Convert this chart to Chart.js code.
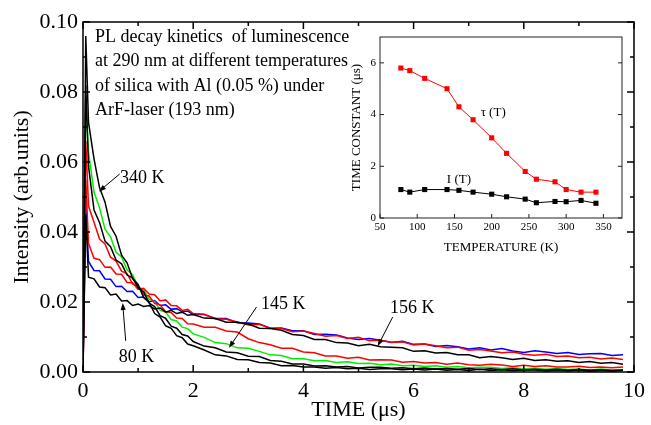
<!DOCTYPE html>
<html>
<head>
<meta charset="utf-8">
<script src="https://cdn.jsdelivr.net/npm/chart.js@4.4.1/dist/chart.umd.min.js"></script>
<style>
  html, body { margin: 0; padding: 0; background: #fff; }
  #wrap { position: relative; width: 651px; height: 425px; }
  #main { position: absolute; left: 0; top: 0; }
  #inset { position: absolute; left: 340px; top: 25px; }
</style>
</head>
<body>
<div id="wrap">
  <canvas id="main" width="651" height="425"></canvas>
  <canvas id="inset" width="311" height="240"></canvas>
</div>
<script>
const SERIF = "'Liberation Serif', 'Times New Roman', serif";

// --- Main plot: PL decay curves, intensity in units of 1e-3 (arb.units) ---
const timeUs = [0, 0.05, 0.1, 0.2, 0.3, 0.4, 0.5, 0.6, 0.7, 0.8, 0.9, 1.0, 1.1, 1.2, 1.3, 1.4, 1.5, 1.6, 1.7, 1.8, 1.9, 2.0,
  2.2, 2.4, 2.6, 2.8, 3.0, 3.2, 3.4, 3.6, 3.8, 4.0, 4.2, 4.4, 4.6, 4.8, 5.0, 5.2, 5.4, 5.6, 5.8, 6.0,
  6.2, 6.4, 6.6, 6.8, 7.0, 7.2, 7.4, 7.6, 7.8, 8.0, 8.2, 8.4, 8.6, 8.8, 9.0, 9.2, 9.4, 9.6, 9.8];

const blueLowT = [0, 48, 31.6, 29.0, 28.9, 26.6, 26.5, 24.4, 24.5, 23.0, 23.1, 21.3, 21.4, 20.1, 20.4, 19.0, 19.2, 17.9, 18.1, 17.2, 17.4, 16.4,
  16.4, 15.3, 15.3, 14.1, 14.0, 13.7, 12.5, 12.6, 11.8, 11.8, 10.7, 10.8, 10.6, 9.7, 9.3, 9.6, 9.1, 8.4, 8.8, 7.9,
  8.0, 7.3, 7.6, 7.2, 6.6, 6.9, 6.3, 6.7, 6.0, 5.6, 6.1, 5.7, 5.3, 5.6, 5.0, 5.2, 5.3, 4.7, 4.9];

const black80K = [0, 45, 27.1, 26.6, 24.3, 24.1, 22.0, 22.3, 20.3, 20.4, 19.0, 19.4, 18.7, 19.0, 18.0, 18.3, 17.1, 17.6, 16.7, 17.1, 16.2, 16.4,
  15.4, 15.3, 14.2, 14.2, 13.7, 12.5, 12.4, 11.9, 10.7, 10.4, 9.3, 9.3, 8.4, 8.3, 7.5, 7.9, 7.2, 7.1, 6.9, 5.9,
  6.1, 5.4, 5.6, 4.9, 4.9, 4.1, 4.4, 4.1, 3.6, 3.9, 3.3, 3.5, 3.1, 3.2, 2.7, 3.0, 2.5, 2.7, 2.2];

const redUpper = [0, 55, 36.7, 32.5, 32.1, 29.9, 30.0, 28.0, 27.9, 25.6, 25.5, 23.6, 23.9, 22.3, 22.1, 20.3, 20.6, 19.0, 18.9, 17.6, 17.9, 16.7,
  16.5, 15.2, 15.1, 14.3, 13.4, 13.6, 12.5, 12.4, 11.5, 11.7, 11.0, 10.2, 10.4, 9.6, 9.9, 8.9, 9.1, 8.5, 8.6, 7.7,
  8.0, 7.5, 6.9, 7.1, 6.2, 6.4, 6.0, 5.5, 5.7, 5.1, 4.8, 5.1, 4.4, 4.6, 4.1, 4.2, 3.7, 4.0, 3.6];

const redLower = [0, 66, 47.4, 42.8, 38.0, 36.6, 32.8, 31.7, 28.8, 28.1, 25.2, 24.5, 22.0, 21.7, 19.6, 19.2, 17.2, 17.0, 15.4, 15.3, 13.8, 13.7,
  12.8, 12.8, 11.7, 11.4, 9.5, 8.4, 7.8, 6.8, 6.8, 5.7, 5.5, 4.6, 4.6, 3.9, 4.2, 3.4, 3.5, 3.4, 2.8, 3.0,
  2.6, 2.7, 2.2, 2.6, 2.1, 1.9, 2.2, 2.0, 1.6, 1.95, 1.6, 1.8, 1.45, 1.4, 1.65, 1.3, 1.45, 1.2, 1.4];

const greenCurve = [0, 78, 62.8, 51.4, 46.9, 40.8, 38.6, 34.2, 32.9, 29.1, 27.8, 24.4, 23.5, 20.8, 20.1, 17.6, 17.1, 15.0, 14.6, 12.8, 12.4, 10.9,
  9.9, 8.4, 8.1, 6.9, 6.8, 5.9, 4.9, 4.7, 3.8, 3.8, 3.2, 3.3, 2.7, 2.9, 2.4, 2.5, 2.05, 2.25, 1.8, 1.95,
  1.6, 1.75, 1.35, 1.6, 1.2, 1.35, 1.35, 1.0, 1.2, 0.9, 1.05, 0.8, 1.0, 0.7, 0.85, 0.6, 0.85, 0.55, 0.7];

const black340K = [0, 96, 71.3, 60.9, 52.7, 48.5, 41.6, 38.8, 33.4, 31.2, 26.7, 25.0, 21.3, 19.9, 16.7, 15.7, 13.2, 12.5, 10.4, 9.8, 8.0, 7.5,
  6.3, 4.9, 4.6, 3.6, 3.5, 2.7, 2.6, 1.8, 1.85, 1.4, 1.45, 1.05, 1.3, 0.9, 1.1, 0.75, 0.95, 0.95, 0.65, 0.85,
  0.55, 0.85, 0.5, 0.7, 0.45, 0.75, 0.4, 0.65, 0.35, 0.55, 0.55, 0.3, 0.5, 0.3, 0.5, 0.2, 0.4, 0.25, 0.4];

const blackHighT = [0, 82, 58.8, 46.3, 42.7, 37.4, 35.8, 32.0, 30.9, 27.7, 26.9, 24.1, 22.9, 19.7, 18.7, 16.1, 15.3, 13.1, 12.5, 10.7, 10.3, 8.7,
  7.4, 6.9, 5.7, 5.5, 4.5, 4.4, 3.3, 3.1, 2.3, 2.3, 1.7, 1.8, 1.4, 1.55, 1.15, 1.35, 1.35, 1.05, 1.2, 0.9,
  1.15, 0.85, 1.0, 0.8, 1.0, 0.7, 0.9, 0.65, 0.9, 0.6, 0.8, 0.6, 0.75, 0.5, 0.7, 0.5, 0.65, 0.4, 0.55];

const xMajorTicks = [0, 2, 4, 6, 8, 10];
const xMinorTicks = [1, 3, 5, 7, 9];
const yMajorTicks = [0, 20, 40, 60, 80, 100];
const yMinorTicks = [10, 30, 50, 70, 90];

const captionLines = [
  'PL decay kinetics  of luminescence',
  'at 290 nm at different temperatures',
  'of silica with Al (0.05 %) under',
  'ArF-laser (193 nm)'
];

// temperature labels with arrows (data coordinates: time, intensity*1e3)
const tempNotes = [
  { text: '340 K', at: [0.67, 55.4], from: [0.667, 56.6], to: [0.29, 51.6] },
  { text: '80 K',  at: [0.65, 4.3],  from: [0.775, 8.9],  to: [0.72, 19.7] },
  { text: '145 K', at: [3.23, 19.4], from: [3.15, 18.6],  to: [2.65, 6.9] },
  { text: '156 K', at: [5.57, 18.3], from: [5.62, 15.7],  to: [5.35, 7.4] }
];

// --- Inset: time constant vs temperature ---
const tempK = [78, 90, 110, 140, 156, 175, 200, 220, 245, 260, 285, 300, 320, 340];
const tauUs = [5.8, 5.7, 5.4, 5.0, 4.3, 3.8, 3.1, 2.5, 1.8, 1.5, 1.4, 1.1, 1.0, 1.0];
const intensityT = [1.1, 1.0, 1.1, 1.1, 1.07, 1.0, 0.92, 0.82, 0.73, 0.59, 0.64, 0.63, 0.68, 0.57];

const insetNotes = [
  { text: 'τ (T)', at: [202, 4.06] },
  { text: 'I (T)', at: [156, 1.47] }
];

function toPoints(xs, ys) {
  return xs.map((x, i) => ({ x: x, y: ys[i] }));
}

function drawArrow(ctx, x1, y1, x2, y2) {
  const ang = Math.atan2(y2 - y1, x2 - x1);
  const len = 7, half = 2.6;
  ctx.beginPath();
  ctx.moveTo(x1, y1);
  ctx.lineTo(x2 - Math.cos(ang) * len * 0.8, y2 - Math.sin(ang) * len * 0.8);
  ctx.stroke();
  ctx.beginPath();
  ctx.moveTo(x2, y2);
  ctx.lineTo(x2 - Math.cos(ang) * len - Math.sin(ang) * half, y2 - Math.sin(ang) * len + Math.cos(ang) * half);
  ctx.lineTo(x2 - Math.cos(ang) * len + Math.sin(ang) * half, y2 - Math.sin(ang) * len - Math.cos(ang) * half);
  ctx.closePath();
  ctx.fill();
}

// frame with inward ticks + text annotations for the main plot
const mainDecor = {
  id: 'mainDecor',
  afterDatasetsDraw(chart) {
    const { ctx, chartArea: a, scales: { x, y } } = chart;
    ctx.save();
    ctx.strokeStyle = '#000';
    ctx.fillStyle = '#000';
    ctx.lineWidth = 1.5;
    ctx.strokeRect(a.left, a.top, a.right - a.left, a.bottom - a.top);

    const tick = (vals, len, horiz) => {
      vals.forEach(v => {
        ctx.beginPath();
        if (horiz) {
          const px = x.getPixelForValue(v);
          ctx.moveTo(px, a.bottom); ctx.lineTo(px, a.bottom - len);
          ctx.moveTo(px, a.top); ctx.lineTo(px, a.top + len);
        } else {
          const py = y.getPixelForValue(v);
          ctx.moveTo(a.left, py); ctx.lineTo(a.left + len, py);
          ctx.moveTo(a.right, py); ctx.lineTo(a.right - len, py);
        }
        ctx.stroke();
      });
    };
    tick(xMajorTicks, 7, true);
    tick(xMinorTicks, 4, true);
    tick(yMajorTicks, 7, false);
    tick(yMinorTicks, 4, false);

    // caption
    ctx.font = '18px ' + SERIF;
    ctx.textBaseline = 'middle';
    ctx.textAlign = 'left';
    const cx = x.getPixelForValue(0.216);
    const cy = y.getPixelForValue(95.7);
    captionLines.forEach((line, i) => ctx.fillText(line, cx, cy + i * 24.4));

    // temperature labels
    ctx.lineWidth = 1;
    tempNotes.forEach(n => {
      ctx.fillText(n.text, x.getPixelForValue(n.at[0]), y.getPixelForValue(n.at[1]));
      drawArrow(ctx,
        x.getPixelForValue(n.from[0]), y.getPixelForValue(n.from[1]),
        x.getPixelForValue(n.to[0]), y.getPixelForValue(n.to[1]));
    });
    ctx.restore();
  }
};

const insetDecor = {
  id: 'insetDecor',
  afterDatasetsDraw(chart) {
    const { ctx, chartArea: a, scales: { x, y } } = chart;
    ctx.save();
    ctx.strokeStyle = '#222';
    ctx.lineWidth = 1;
    ctx.strokeRect(a.left, a.top, a.right - a.left, a.bottom - a.top);
    [50, 100, 150, 200, 250, 300, 350].forEach(v => {
      const px = x.getPixelForValue(v);
      ctx.beginPath();
      ctx.moveTo(px, a.bottom); ctx.lineTo(px, a.bottom - 4);
      ctx.stroke();
    });
    [0, 2, 4, 6].forEach(v => {
      const py = y.getPixelForValue(v);
      ctx.beginPath();
      ctx.moveTo(a.left, py); ctx.lineTo(a.left + 4, py);
      ctx.moveTo(a.right, py); ctx.lineTo(a.right - 4, py);
      ctx.stroke();
    });
    ctx.fillStyle = '#000';
    ctx.font = '13px ' + SERIF;
    ctx.textAlign = 'center';
    ctx.textBaseline = 'middle';
    insetNotes.forEach(n => ctx.fillText(n.text, x.getPixelForValue(n.at[0]), y.getPixelForValue(n.at[1])));
    ctx.restore();
  }
};

function decayLine(ys, color) {
  return {
    data: toPoints(timeUs, ys),
    borderColor: color,
    borderWidth: 1.5,
    pointRadius: 0,
    fill: false,
    tension: 0
  };
}

new Chart(document.getElementById('main'), {
  type: 'line',
  data: {
    datasets: [
      decayLine(black340K, '#000000'),
      decayLine(blackHighT, '#000000'),
      decayLine(black80K, '#000000'),
      decayLine(redUpper, '#ff0000'),
      decayLine(redLower, '#ff0000'),
      decayLine(greenCurve, '#00ee00'),
      decayLine(blueLowT, '#0000ff')
    ]
  },
  options: {
    responsive: false,
    animation: false,
    layout: { padding: { left: 0, right: 13, top: 22, bottom: 0 } },
    plugins: { legend: { display: false }, tooltip: { enabled: false } },
    scales: {
      x: {
        type: 'linear', min: 0, max: 10,
        ticks: { stepSize: 2, color: '#000', font: { family: SERIF, size: 22 }, padding: 6, maxRotation: 0 },
        grid: { display: false, drawTicks: false },
        border: { display: false },
        title: { display: true, text: 'TIME (μs)', color: '#000', font: { family: SERIF, size: 22 }, padding: { top: 0, bottom: 2 } },
        afterFit: s => { s.height = 53; }
      },
      y: {
        type: 'linear', min: 0, max: 100,
        ticks: { stepSize: 20, color: '#000', font: { family: SERIF, size: 22 }, padding: 5,
          callback: v => (v / 1000).toFixed(2) },
        grid: { display: false, drawTicks: false },
        border: { display: false },
        title: { display: true, text: 'Intensity (arb.units)', color: '#000', font: { family: SERIF, size: 22 }, padding: { top: 9, bottom: 0 } },
        afterFit: s => { s.width = 83; }
      }
    }
  },
  plugins: [mainDecor]
});

new Chart(document.getElementById('inset'), {
  type: 'line',
  data: {
    datasets: [
      { data: toPoints(tempK, tauUs), borderColor: '#ff0000', backgroundColor: '#ff0000', borderWidth: 1,
        pointStyle: 'rect', pointRadius: 3.6, pointBorderWidth: 0, tension: 0 },
      { data: toPoints(tempK, intensityT), borderColor: '#000', backgroundColor: '#000', borderWidth: 1,
        pointStyle: 'rect', pointRadius: 3.6, pointBorderWidth: 0, tension: 0 }
    ]
  },
  options: {
    responsive: false,
    animation: false,
    layout: { padding: { left: 0, right: 29, top: 12, bottom: 0 } },
    plugins: { legend: { display: false }, tooltip: { enabled: false } },
    scales: {
      x: {
        type: 'linear', min: 50, max: 375,
        ticks: { stepSize: 50, includeBounds: false, color: '#000', font: { family: SERIF, size: 11 }, padding: 3, maxRotation: 0 },
        grid: { display: false, drawTicks: false },
        border: { display: false },
        title: { display: true, text: 'TEMPERATURE (K)', color: '#000', font: { family: SERIF, size: 13 }, padding: { top: 0, bottom: 10 } },
        afterFit: s => { s.height = 47; }
      },
      y: {
        type: 'linear', min: 0, max: 7,
        ticks: { stepSize: 2, includeBounds: false, color: '#000', font: { family: SERIF, size: 11 }, padding: 4 },
        grid: { display: false, drawTicks: false },
        border: { display: false },
        title: { display: true, text: 'TIME CONSTANT (μs)', color: '#000', font: { family: SERIF, size: 13 }, padding: { top: 9, bottom: 0 } },
        afterFit: s => { s.width = 40; }
      }
    }
  },
  plugins: [insetDecor]
});
</script>
</body>
</html>
